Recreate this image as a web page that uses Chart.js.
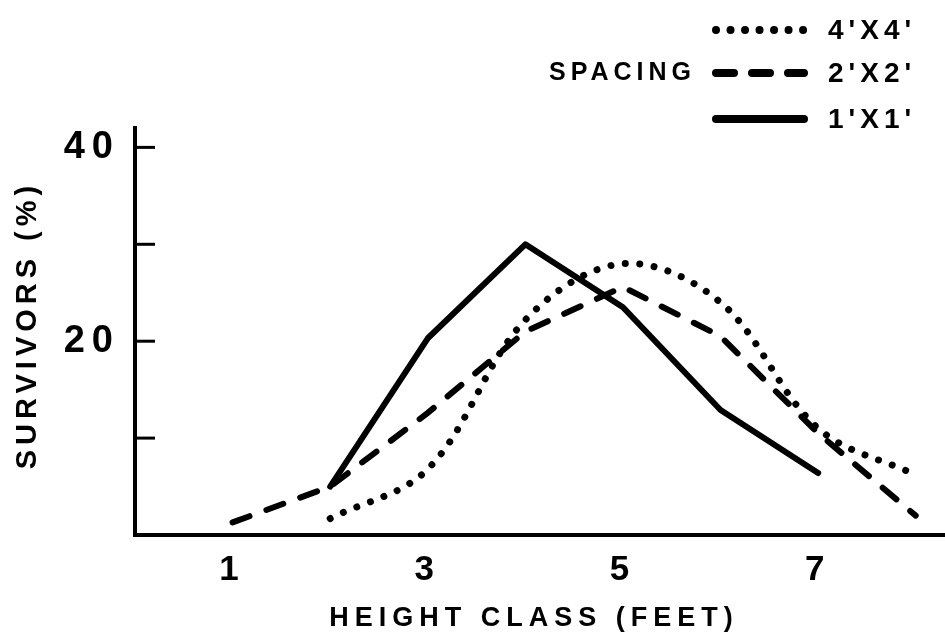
<!DOCTYPE html>
<html>
<head>
<meta charset="utf-8">
<script src="https://cdn.jsdelivr.net/npm/chart.js@4"></script>
<style>
  html, body { margin: 0; padding: 0; background: #fff; }
  #wrap { width: 945px; height: 637px; position: relative; }
</style>
</head>
<body>
<div id="wrap"><canvas id="survivors"></canvas></div>
<script>
// Height class (feet) on the x axis
const heights = [1, 2, 3, 4, 5, 6, 7, 8];
// Survivors (%) per spacing
const spacing4x4 = [null, 1.7, 6.8, 22.2, 28, 24, 11, 6.2];
const spacing2x2 = [1.3, 5, 12.6, 21, 25.6, 20.5, 10.5, 2];
const spacing1x1 = [null, 5, 20.3, 30, 23.5, 12.9, 6.4, null];
// Tick values
const xTicks = [1, 3, 5, 7];
const yTicks = [0, 10, 20, 30, 40];
const yLabelled = [20, 40];
const seriesNames = ["4'X4'", "2'X2'", "1'X1'"];

const FONT = '"Liberation Sans", Arial, sans-serif';

function points(vals) {
    return heights.map((h, i) => ({ x: h, y: vals[i] }));
}

// axis titles, inner tick marks and the spacing legend
const decor = {
    id: 'decor',
    beforeDraw(chart) { chart.ctx.letterSpacing = '7px'; },
    beforeDatasetsDraw(chart) { chart.ctx.letterSpacing = '0px'; },
    afterDraw(chart) {
        const { ctx, scales: { x, y } } = chart;
        ctx.save();
        ctx.strokeStyle = '#000';
        ctx.lineWidth = 3;
        yTicks.filter(v => v > 0).forEach(v => {
            const py = y.getPixelForValue(v);
            ctx.beginPath();
            ctx.moveTo(x.left, py);
            ctx.lineTo(x.left + 20, py);
            ctx.stroke();
        });

        ctx.fillStyle = '#000';
        ctx.textBaseline = 'middle';
        ctx.textAlign = 'center';
        ctx.font = 'bold 27px ' + FONT;
        ctx.letterSpacing = '6px';
        ctx.fillText('HEIGHT CLASS (FEET)', 534, 619);

        ctx.save();
        ctx.translate(28, 325);
        ctx.rotate(-Math.PI / 2);
        ctx.font = 'bold 29px ' + FONT;
        ctx.letterSpacing = '5px';
        ctx.fillText('SURVIVORS (%)', 0, 0);
        ctx.restore();

        // legend
        const rows = [30, 73, 119];
        ctx.textAlign = 'left';
        ctx.font = 'bold 28px ' + FONT;
        ctx.letterSpacing = '5px';
        chart.data.datasets.forEach((ds, i) => {
            ctx.save();
            ctx.lineWidth = ds.legendWidth;
            ctx.lineCap = ds.borderCapStyle || 'butt';
            ctx.setLineDash(ds.borderDash || []);
            ctx.beginPath();
            ctx.moveTo(716, rows[i]);
            ctx.lineTo(804, rows[i]);
            ctx.stroke();
            ctx.restore();
            ctx.fillText(ds.label, 828, rows[i] + 1);
        });
        ctx.textAlign = 'right';
        ctx.font = 'bold 25px ' + FONT;
        ctx.letterSpacing = '5px';
        ctx.fillText('SPACING', 696, 73);
        ctx.restore();
    }
};

new Chart(document.getElementById('survivors'), {
    type: 'line',
    data: {
        datasets: [
            {
                label: seriesNames[0],
                data: points(spacing4x4),
                borderColor: '#000',
                borderWidth: 7,
                legendWidth: 8,
                borderDash: [0.01, 14.5],
                borderCapStyle: 'round',
                tension: 0.35,
                pointRadius: 0
            },
            {
                label: seriesNames[1],
                data: points(spacing2x2),
                borderColor: '#000',
                borderWidth: 6,
                legendWidth: 8,
                borderDash: [18, 18],
                borderCapStyle: 'round',
                tension: 0,
                pointRadius: 0
            },
            {
                label: seriesNames[2],
                data: points(spacing1x1),
                borderColor: '#000',
                borderWidth: 6,
                legendWidth: 8,
                borderCapStyle: 'round',
                borderJoinStyle: 'round',
                tension: 0,
                pointRadius: 0
            }
        ]
    },
    options: {
        responsive: true,
        maintainAspectRatio: false,
        animation: false,
        layout: { padding: { top: 128, left: 0, right: 0, bottom: 0 } },
        plugins: {
            legend: { display: false },
            tooltip: { enabled: false }
        },
        scales: {
            x: {
                type: 'linear',
                min: 0,
                max: 8.3,
                afterBuildTicks: s => { s.ticks = xTicks.map(v => ({ value: v })); },
                afterFit: s => { s.height = 102; },
                grid: { display: false, drawTicks: false },
                border: { display: true, color: '#000', width: 4 },
                ticks: {
                    color: '#000',
                    padding: 14,
                    maxRotation: 0,
                    font: { family: FONT, size: 35, weight: 'bold' }
                }
            },
            y: {
                min: 0,
                max: 42,
                afterBuildTicks: s => { s.ticks = yTicks.map(v => ({ value: v })); },
                afterFit: s => { s.width = 135; },
                grid: { display: false, drawTicks: false },
                border: { display: true, color: '#000', width: 4 },
                ticks: {
                    color: '#000',
                    padding: 15,
                    font: { family: FONT, size: 38, weight: 'bold' },
                    callback: v => yLabelled.includes(v) ? String(v) : ''
                }
            }
        }
    },
    plugins: [decor]
});
</script>
</body>
</html>
